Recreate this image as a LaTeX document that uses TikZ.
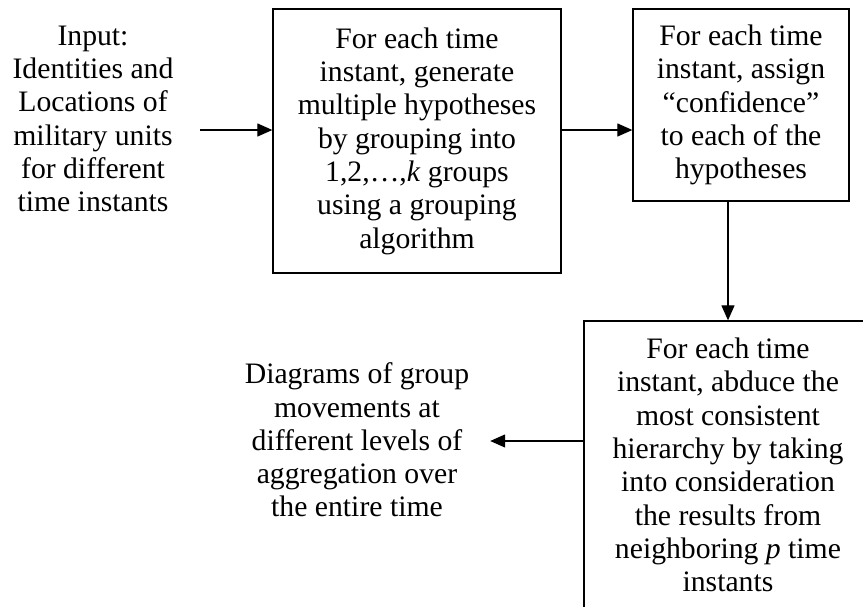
\documentclass[tikz,border=0pt]{standalone}
\usepackage{fontspec}
\setmainfont{Liberation Serif}
\usetikzlibrary{arrows.meta}
\begin{document}
\begin{tikzpicture}[x=1pt,y=-1pt,
  txt/.style={font=\fontsize{29.7}{33.3}\selectfont, align=center, inner sep=0pt},
  box/.style={draw, line width=1.3pt, txt},
  arr/.style={-{Triangle[length=15pt,width=13pt]}, line width=1.2pt}]
\useasboundingbox (0,0) rectangle (863,606);
\clip (0,0) rectangle (863,606);
\node[txt, minimum width=214pt] (in) at (93,119)
  {Input:\\Identities and\\Locations of\\military units\\for different\\time instants};
\node[box, minimum width=288pt, minimum height=264pt] (b1) at (417,141)
  {For each time\\instant, generate\\multiple hypotheses\\by grouping into\\1,2,…,\textit{k} groups\\using a grouping\\algorithm};
\node[box, minimum width=216pt, minimum height=192pt] (b2) at (741,105)
  {For each time\\instant, assign\\“confidence”\\to each of the\\hypotheses};
\node[box, minimum width=288pt, minimum height=288pt] (b3) at (728,465)
  {For each time\\instant, abduce the\\most consistent\\hierarchy by taking\\into consideration\\the results from\\neighboring \textit{p} time\\instants};
\node[txt, minimum width=266pt] (out) at (357,440)
  {Diagrams of group\\movements at\\different levels of\\aggregation over\\the entire time};
\coordinate (row) at (0,130);
\coordinate (row2) at (0,441);
\draw[arr] (in.east |- row) -- (b1.west |- row);
\draw[arr] (b1.east |- row) -- (b2.west |- row);
\draw[arr] (b2.south -| b3.north) -- (b3.north);
\draw[arr] (b3.west |- row2) -- (out.east |- row2);
\end{tikzpicture}
\end{document}
